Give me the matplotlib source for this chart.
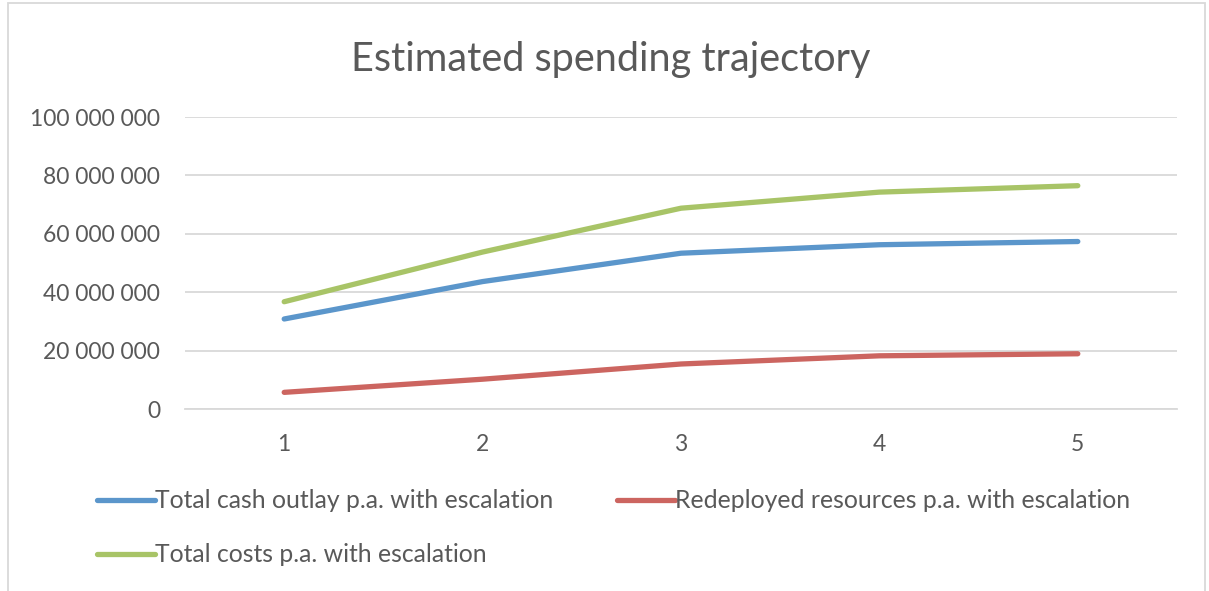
import matplotlib
matplotlib.use("Agg")
import matplotlib.pyplot as plt
from matplotlib.patches import Rectangle
from matplotlib.ticker import FuncFormatter

plt.rcParams['font.family'] = ['Lato', 'DejaVu Sans']

years = [1, 2, 3, 4, 5]
cash_outlay = [30.9e6, 43.7e6, 53.4e6, 56.3e6, 57.4e6]
redeployed = [5.8e6, 10.3e6, 15.5e6, 18.3e6, 19.0e6]
total_costs = [36.8e6, 53.8e6, 68.8e6, 74.3e6, 76.5e6]
series_names = ["Total cash outlay p.a. with escalation",
                "Redeployed resources p.a. with escalation",
                "Total costs p.a. with escalation"]
colors = ["#5b96cb", "#cc6560", "#a8c467"]
title = "Estimated spending trajectory"

W, H = 1209, 591
fig = plt.figure(figsize=(W / 100, H / 100), dpi=100)
ax = fig.add_axes([185 / W, 1 - 409.3 / H, (1177 - 185) / W, (409.3 - 117) / H])

text_col = "#595959"
lines = []
for vals, c in zip([cash_outlay, redeployed, total_costs], colors):
    ln, = ax.plot(years, vals, color=c, lw=3.8, solid_capstyle='round', solid_joinstyle='round', zorder=3)
    lines.append(ln)

ax.set_xlim(0.5, 5.5)
ax.set_ylim(0, 100e6)
ax.set_yticks(range(0, 100_000_001, 20_000_000))
ax.set_xticks(years)
ax.yaxis.set_major_formatter(FuncFormatter(lambda v, p: f"{int(v):,}".replace(",", " ")))
ax.grid(axis='y', color="#d9d9d9", lw=1.3)
ax.set_axisbelow(True)
for s in ax.spines.values():
    s.set_visible(False)
ax.spines['bottom'].set_visible(True)
ax.spines['bottom'].set_color("#d9d9d9")
ax.spines['bottom'].set_linewidth(1.3)
ax.tick_params(axis='both', length=0, labelsize=16.5, labelcolor=text_col)
ax.tick_params(axis='y', pad=18)
ax.tick_params(axis='x', pad=18)

fig.text(611 / W, 1 - 59 / H, title, ha='center', va='center', fontsize=28.5, color=text_col)

# legend entries
positions = [(97, 501), (617, 501), (97, 555)]
for ln, name, (px, py) in zip(lines, series_names, positions):
    leg = fig.legend([ln], [name], loc='center left', bbox_to_anchor=(px / W, 1 - py / H),
                     frameon=False, fontsize=17.8, handlelength=2.35, handletextpad=0.0,
                     borderpad=0, borderaxespad=0, labelcolor=text_col)

fig.patches.append(Rectangle((8 / W, -0.01), (1205 - 8) / W, 1 - 3 / H + 0.01,
                             transform=fig.transFigure, fill=False, edgecolor="#d9d9d9", lw=1.3))

fig.savefig("out.png", dpi=100)
